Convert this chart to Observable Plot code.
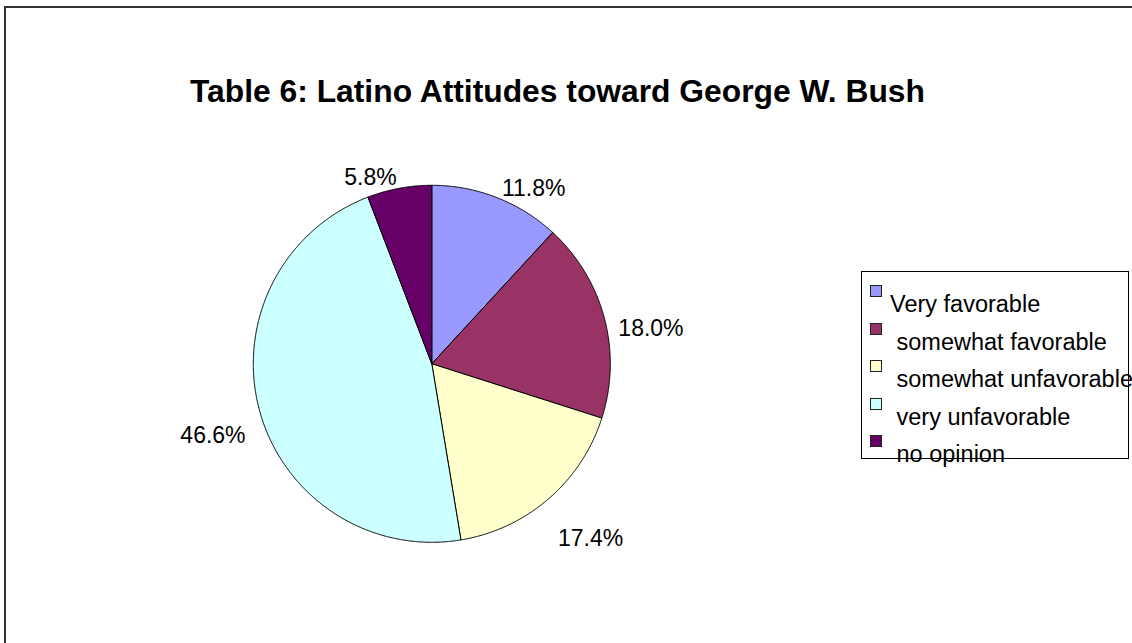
<!DOCTYPE html>
<html>
<head>
<meta charset="utf-8">
<script src="https://cdn.jsdelivr.net/npm/d3@7"></script>
<script src="https://cdn.jsdelivr.net/npm/@observablehq/plot@0.6"></script>
<style>
  html, body { margin: 0; padding: 0; background: #fff; overflow: hidden; }
  #wrap { position: relative; width: 1132px; height: 643px; overflow: hidden; font-family: "Liberation Sans", Arial, sans-serif; }
  #frame { position: absolute; left: 4px; top: 6px; width: 1300px; height: 800px; border-left: 2px solid #333; border-top: 2px solid #333; }
  #title { position: absolute; left: 0; top: 76.4px; width: 1115px; text-align: center; font-weight: bold; font-size: 31.8px; line-height: 31.8px; color: #000; white-space: nowrap; }
  #chart { position: absolute; left: 0; top: 0; }
  #legend { position: absolute; left: 861px; top: 271px; width: 268px; height: 188px; border: 1px solid #000; box-sizing: border-box; }
  .sw { position: absolute; width: 12px; height: 12px; box-sizing: border-box; border: 1px solid #222; }
  .lt { position: absolute; font-size: 23.5px; line-height: 23.5px; white-space: pre; color: #000; }
</style>
</head>
<body>
<div id="wrap">
  <div id="frame"></div>
  <div id="chart"></div>
  <div id="title"></div>
  <div id="legend"></div>
</div>
<script>
const titleText = "Table 6: Latino Attitudes toward George W. Bush";
const categories = ["Very favorable", "somewhat favorable", "somewhat unfavorable", "very unfavorable", "no opinion"];
const legendLabels = ["Very favorable", " somewhat favorable", " somewhat unfavorable", " very unfavorable", " no opinion"];
const values = [11.8, 18.0, 17.4, 46.6, 5.8];
const pctLabels = ["11.8%", "18.0%", "17.4%", "46.6%", "5.8%"];
const colors = ["#9999FF", "#993366", "#FFFFCC", "#CCFFFF", "#660066"];

document.getElementById("title").textContent = titleText;

const rows = categories.map((c, i) => ({cat: c, value: values[i], label: pctLabels[i]}));
const arcs = d3.pie().sort(null).value(d => d.value)(rows);

// slice outlines (unit circle geometry from the pie angles)
const poly = arcs.flatMap(a => {
  const n = Math.max(2, Math.ceil((a.endAngle - a.startAngle) / 0.005));
  const pts = [{cat: a.data.cat, x: 0, y: 0}];
  for (let i = 0; i <= n; i++) {
    const t = a.startAngle + (a.endAngle - a.startAngle) * i / n;
    pts.push({cat: a.data.cat, x: Math.sin(t), y: Math.cos(t)});
  }
  pts.push({cat: a.data.cat, x: 0, y: 0});
  return pts;
});

// percentage labels placed outside each slice at its mid-angle
const labels = arcs.map(a => {
  const m = (a.startAngle + a.endAngle) / 2;
  return {text: a.data.label, s: Math.sin(m), x: 1.081 * Math.sin(m), y: 1.161 * Math.cos(m) - 0.099};
});

const chart = Plot.plot({
  width: 1132,
  height: 643,
  margin: 0,
  style: {background: "transparent", fontFamily: "'Liberation Sans', Arial, sans-serif"},
  x: {type: "linear", domain: [-1, 1], range: [252.8, 609.8], axis: null},
  y: {type: "linear", domain: [-1, 1], range: [541.8, 184.8], axis: null},
  color: {domain: categories, range: colors},
  marks: [
    Plot.line(poly, {x: "x", y: "y", z: "cat", fill: "cat", stroke: "#000", strokeWidth: 1, curve: "linear", strokeLinejoin: "miter"}),
    Plot.text(labels.filter(d => d.s >= 0), {x: "x", y: "y", text: "text", textAnchor: "start", fontSize: 23, fill: "#000"}),
    Plot.text(labels.filter(d => d.s < 0), {x: "x", y: "y", text: "text", textAnchor: "end", fontSize: 23, fill: "#000"})
  ]
});
document.getElementById("chart").appendChild(chart);

// legend
const legend = document.getElementById("legend");
categories.forEach((c, i) => {
  const sw = document.createElement("div");
  sw.className = "sw";
  sw.style.background = colors[i];
  sw.style.left = (870 - 862) + "px";
  sw.style.top = (285 - 272 + i * 37.5) + "px";
  legend.appendChild(sw);
  const t = document.createElement("div");
  t.className = "lt";
  t.textContent = legendLabels[i];
  t.style.left = (890 - 862) + "px";
  t.style.top = (293.1 - 272 + i * 37.5) + "px";
  legend.appendChild(t);
});
</script>
</body>
</html>
